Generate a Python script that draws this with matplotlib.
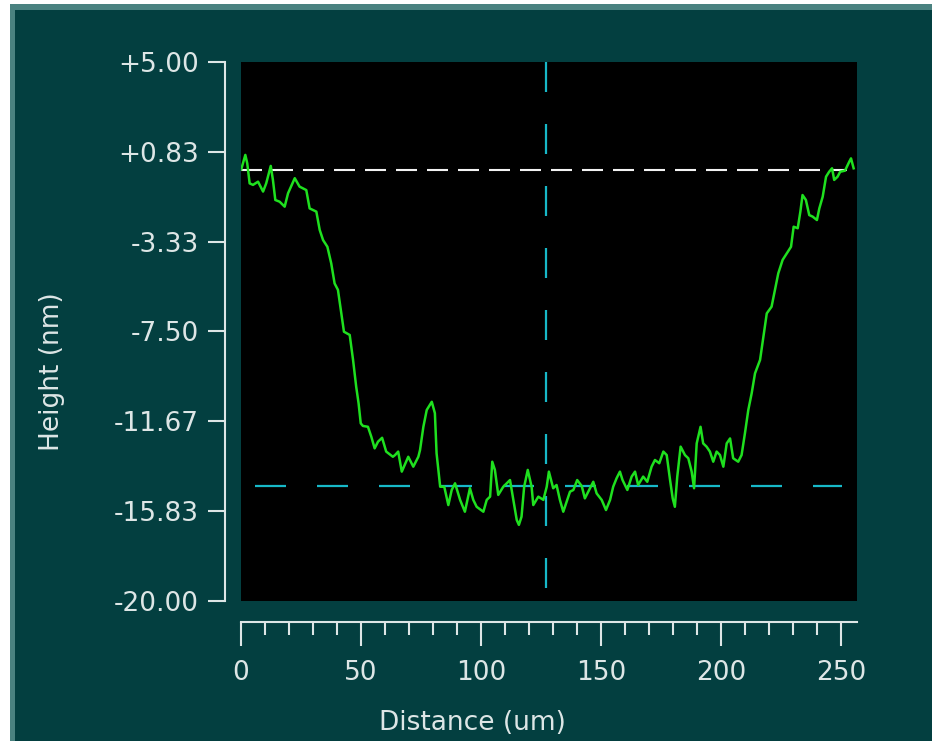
import matplotlib
matplotlib.use("Agg")
import matplotlib.pyplot as plt
from matplotlib.patches import Rectangle
from matplotlib.ticker import FixedLocator

plt.rcParams['font.family'] = ['DejaVu Sans']
plt.rcParams['lines.scale_dashes'] = False

# Surface profile: distance (um) vs height (nm)
distance = [
    0.1, 1.8, 2.6, 3.6, 5.0, 7.1, 9.2, 10.5, 12.4, 13.3, 14.3, 16.1, 18.2, 19.6,
    22.4, 24.4, 27.2, 28.6, 31.4, 32.8, 34.2, 36.0, 37.6, 39.0, 40.4, 41.8, 42.9,
    45.3, 46.7, 48.0, 49.0, 49.9, 50.8, 52.9, 54.3, 55.7, 57.1, 58.8, 60.5, 63.3,
    64.2, 65.5, 67.0, 69.7, 71.8, 73.9, 74.6, 76.0, 77.4, 79.5, 80.8, 81.5, 83.0,
    84.7, 86.4, 87.8, 89.2, 91.3, 93.3, 95.4, 96.8, 98.2, 101.0, 102.4, 103.8,
    104.7, 105.8, 107.2, 109.3, 112.1, 113.5, 114.9, 115.8, 116.9, 118.0, 119.5,
    121.1, 121.8, 123.9, 126.0, 127.4, 128.3,
    130.1, 131.5, 132.9, 134.3, 135.7, 137.1, 138.5, 140.1, 142.0, 143.3, 144.7,
    146.8, 148.2, 150.3, 152.1, 153.8, 155.1, 156.5, 157.9, 159.0, 161.0, 162.8,
    164.2, 165.5, 167.6, 169.3, 171.1, 172.5, 174.3, 176.0, 177.4, 178.8, 179.9,
    180.8, 181.8, 183.2, 185.0, 186.4, 187.8, 188.8, 189.9, 191.5,
    192.6, 194.0, 195.4, 196.8, 198.2, 199.6, 201.0, 202.4, 203.8, 205.1, 207.2,
    208.6, 210.0, 211.4, 212.8, 214.2, 216.3, 217.7, 219.1, 221.1, 222.5, 223.9,
    225.7, 227.5, 229.2, 230.3, 232.0, 233.1, 234.0, 235.4, 236.8, 238.2, 240.0,
    241.0, 242.4, 243.8, 245.1, 246.3, 247.2, 248.6, 249.7, 251.7, 253.5, 254.2,
    255.3,
]
height = [
    0.02, 0.69, 0.30, -0.63, -0.70, -0.55, -1.01, -0.63, 0.18, -0.47, -1.40, -1.48,
    -1.71, -1.09, -0.39, -0.78, -0.94, -1.79, -1.94, -2.79, -3.26, -3.57, -4.34,
    -5.27, -5.57, -6.66, -7.51, -7.66, -8.82, -10.06, -10.83, -11.76, -11.88,
    -11.92, -12.38, -12.92, -12.61, -12.43, -13.07, -13.31,
    -13.23, -13.07, -14.00, -13.31, -13.77, -13.31, -13.00, -11.92, -11.14, -10.76,
    -11.29, -13.15, -14.70, -14.70, -15.55, -14.85, -14.54, -15.31, -15.86, -14.77,
    -15.31, -15.63, -15.86, -15.31, -15.16, -13.54, -13.92, -15.08, -14.70, -14.39,
    -15.31, -16.24, -16.47, -16.09, -14.70, -13.92, -14.70, -15.55, -15.16, -15.31,
    -14.70, -14.00,
    -14.77, -14.62, -15.31, -15.86, -15.39, -14.93, -14.85, -14.39, -14.67, -15.24,
    -14.93, -14.47, -15.01, -15.31, -15.78, -15.31, -14.70, -14.31, -14.00, -14.39,
    -14.85, -14.23, -14.00, -14.62, -14.23, -14.47, -13.77, -13.46, -13.61, -13.07,
    -13.23, -14.39, -15.24, -15.63, -14.23, -12.84, -13.23, -13.38, -14.00, -14.77,
    -12.69, -11.92,
    -12.69, -12.84, -13.07, -13.54, -13.07, -13.23, -13.77, -12.69, -12.46, -13.38,
    -13.54, -13.23, -12.22, -11.14, -10.37, -9.44, -8.82, -7.74, -6.66, -6.35,
    -5.57, -4.80, -4.18, -3.87, -3.57, -2.64, -2.71, -1.94, -1.17, -1.40, -2.10,
    -2.17, -2.33, -1.79, -1.25, -0.32, -0.09, 0.07, -0.47, -0.32, -0.09, -0.04,
    0.38, 0.53, 0.07,
]

# Cursor / reference levels
ref_top = 0.0
ref_bottom = -14.67
cursor_x = 127.0

y_ticks = [5.0, 0.8333, -3.3333, -7.5, -11.6667, -15.8333, -20.0]
y_tick_labels = ['+5.00', '+0.83', '-3.33', '-7.50', '-11.67', '-15.83', '-20.00']
x_major = [0, 50, 100, 150, 200, 250]
x_minor = [v for v in range(10, 260, 10) if v % 50 != 0]

X_MAX = 256.7
Y_MIN, Y_MAX = -20.0, 5.0

W, H = 932, 741
BG_DARK = '#033f40'
BG_EDGE = '#4a8280'
FG = '#dde6e6'
GREEN = '#1fe01f'
CYAN = '#17b8c8'
PT = 0.72  # points per pixel at dpi 100

fig = plt.figure(figsize=(W / 100, H / 100), dpi=100, facecolor='white')

# window frame
fig.patches.append(Rectangle((10 / W, 0), 1 - 10 / W, 1 - 4 / H,
                             transform=fig.transFigure, facecolor=BG_EDGE,
                             edgecolor='none', zorder=-10))
fig.patches.append(Rectangle((15 / W, 0), 1 - 15 / W, 1 - 10 / H,
                             transform=fig.transFigure, facecolor=BG_DARK,
                             edgecolor='none', zorder=-9))

left, right, top, bottom = 241, 857, 62, 601
ax = fig.add_axes([left / W, 1 - bottom / H, (right - left) / W, (bottom - top) / H])
ax.set_facecolor('black')
ax.set_xlim(0, X_MAX)
ax.set_ylim(Y_MIN, Y_MAX)
ax.set_xticks([])
ax.set_yticks([])
for s in ax.spines.values():
    s.set_visible(False)

ax.plot(distance, height, color=GREEN, lw=1.8, zorder=3)

ax.plot([0, 252.5], [ref_top, ref_top], color='#f2f2f2', lw=1.5,
        dashes=(21 * PT, 10 * PT), zorder=2)
ax.plot([5.8, 250.4], [ref_bottom, ref_bottom], color=CYAN, lw=1.6,
        dashes=(31 * PT, 31 * PT), zorder=2)
ax.plot([cursor_x, cursor_x], [Y_MAX, -19.4], color=CYAN, lw=1.6,
        dashes=(30 * PT, 32 * PT), zorder=2)

# height scale
axy = fig.add_axes([225 / W, 1 - bottom / H, 0.0001, (bottom - top) / H])
axy.set_ylim(Y_MIN, Y_MAX)
axy.patch.set_visible(False)
for k in ('top', 'right', 'bottom'):
    axy.spines[k].set_visible(False)
axy.spines['left'].set_color(FG)
axy.spines['left'].set_linewidth(1.5)
axy.set_xticks([])
axy.set_yticks(y_ticks)
axy.set_yticklabels(y_tick_labels)
axy.tick_params(axis='y', direction='out', length=17 * PT, width=1.5,
                color=FG, labelcolor=FG, labelsize=19, pad=9 * PT)

# distance scale
axx = fig.add_axes([left / W, 1 - 622 / H, (right - left) / W, 0.0001])
axx.set_xlim(0, X_MAX)
axx.patch.set_visible(False)
for k in ('top', 'right', 'left'):
    axx.spines[k].set_visible(False)
axx.spines['bottom'].set_color(FG)
axx.spines['bottom'].set_linewidth(1.5)
axx.set_yticks([])
axx.xaxis.set_major_locator(FixedLocator(x_major))
axx.xaxis.set_minor_locator(FixedLocator(x_minor))
axx.tick_params(axis='x', which='major', direction='out', length=24 * PT,
                width=1.5, color=FG, labelcolor=FG, labelsize=19, pad=14 * PT)
axx.tick_params(axis='x', which='minor', direction='out', length=13 * PT,
                width=1.5, color=FG)

fig.text(472 / W, 1 - 723 / H, 'Distance (um)', color=FG, fontsize=19,
         ha='center', va='center')
fig.text(52 / W, 1 - 372 / H, 'Height (nm)', color=FG, fontsize=19,
         ha='center', va='center', rotation=90)

fig.savefig('out.png', dpi=100, facecolor=fig.get_facecolor())
